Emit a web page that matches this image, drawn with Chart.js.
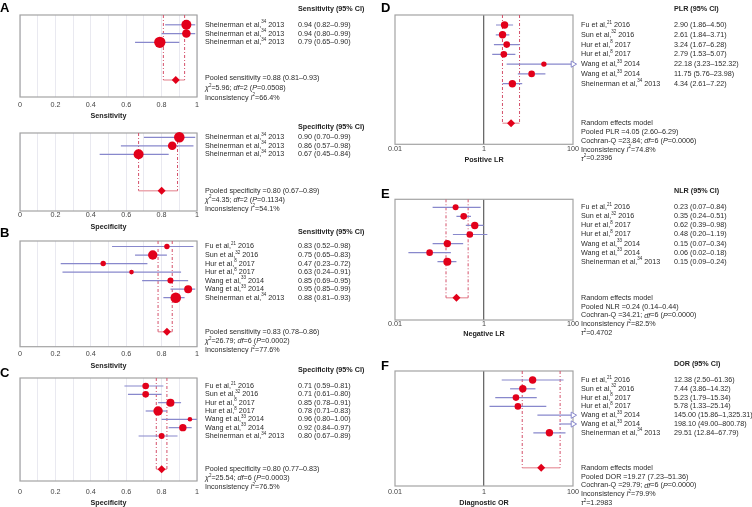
<!DOCTYPE html>
<html>
<head>
<meta charset="utf-8">
<script src="https://cdn.jsdelivr.net/npm/chart.js@4.4.1/dist/chart.umd.min.js"></script>
<style>
  html, body { margin: 0; padding: 0; background: #fff; }
  #fig { position: relative; width: 752px; height: 507px; overflow: hidden; }
  #fig canvas { position: absolute; }
</style>
</head>
<body>
<div id="fig"></div>
<script>
/* Forest plots: pooled sensitivity / specificity / PLR / NLR / DOR */
const FONT = '"Liberation Sans", Arial, Helvetica, sans-serif';
const RED = '#e2001a', CI_COL = '#8888cc', DASH_COL = '#d4506a', POOL_COL = '#eca8b0';
const BOX_COL = '#a3a3a3', TXT = '#2a2a2a';
const FS = 7.2;

// ---- data ----
const shortStudies = ['Sheinerman et al,{s:34} 2013', 'Sheinerman et al,{s:34} 2013', 'Sheinerman et al,{s:34} 2013'];
const studies = ['Fu et al,{s:21} 2016', 'Sun et al,{s:32} 2016', 'Hur et al,{s:8} 2017', 'Hur et al,{s:8} 2017',
  'Wang et al,{s:33} 2014', 'Wang et al,{s:33} 2014', 'Sheinerman et al,{s:34} 2013'];

const linTicks = [0, 0.2, 0.4, 0.6, 0.8, 1];
const logTicks = [0.01, 1, 100];

const aSensEst = [0.94, 0.94, 0.79];
const aSensLo  = [0.82, 0.80, 0.65];
const aSensHi  = [0.99, 0.99, 0.90];
const aSensW   = [25, 18.5, 32];
const aSensPool = [0.88, 0.81, 0.93];
const aSensNotes = ['{i:χ}{s:2}=5.96; {i:df}=2 ({i:P}=0.0508)', 'Inconsistency {i:I}{s:2}=66.4%'];

const aSpecEst = [0.90, 0.86, 0.67];
const aSpecLo  = [0.70, 0.57, 0.45];
const aSpecHi  = [0.99, 0.98, 0.84];
const aSpecW   = [28, 18.5, 25];
const aSpecPool = [0.80, 0.67, 0.89];
const aSpecNotes = ['{i:χ}{s:2}=4.35; {i:df}=2 ({i:P}=0.1134)', 'Inconsistency {i:I}{s:2}=54.1%'];

const bSensEst = [0.83, 0.75, 0.47, 0.63, 0.85, 0.95, 0.88];
const bSensLo  = [0.52, 0.65, 0.23, 0.24, 0.69, 0.85, 0.81];
const bSensHi  = [0.98, 0.83, 0.72, 0.91, 0.95, 0.99, 0.93];
const bSensW   = [7.3, 22, 7.3, 5.3, 9, 16, 28];
const bSensPool = [0.83, 0.78, 0.86];
const bSensNotes = ['{i:χ}{s:2}=26.79; {i:df}=6 ({i:P}=0.0002)', 'Inconsistency {i:I}{s:2}=77.6%'];

const cSpecEst = [0.71, 0.71, 0.85, 0.78, 0.96, 0.92, 0.80];
const cSpecLo  = [0.59, 0.61, 0.78, 0.71, 0.80, 0.84, 0.67];
const cSpecHi  = [0.81, 0.80, 0.91, 0.83, 1.00, 0.97, 0.89];
const cSpecW   = [11, 11, 16, 22, 5.3, 13.7, 9];
const cSpecPool = [0.80, 0.77, 0.83];
const cSpecNotes = ['{i:χ}{s:2}=25.54; {i:df}=6 ({i:P}=0.0003)', 'Inconsistency {i:I}{s:2}=76.5%'];

const plrEst = [2.90, 2.61, 3.24, 2.79, 22.18, 11.75, 4.34];
const plrLo  = [1.86, 1.84, 1.67, 1.53, 3.23, 5.76, 2.61];
const plrHi  = [4.50, 3.71, 6.28, 5.07, 152.32, 23.98, 7.22];
const plrW   = [13.7, 13.7, 11, 11, 7.3, 11, 13.7];
const plrPool = [4.05, 2.60, 6.29];
const plrNotes = ['Cochran-Q =23.84; {i:df}=6 ({i:P}=0.0006)', 'Inconsistency {i:I}{s:2}=74.8%', '{i:τ}{s:2}=0.2396'];

const nlrEst = [0.23, 0.35, 0.62, 0.48, 0.15, 0.06, 0.15];
const nlrLo  = [0.07, 0.24, 0.39, 0.20, 0.07, 0.02, 0.09];
const nlrHi  = [0.84, 0.51, 0.98, 1.19, 0.34, 0.18, 0.24];
const nlrW   = [9, 11, 13.7, 11, 13.7, 11, 16];
const nlrPool = [0.24, 0.14, 0.44];
const nlrNotes = ['Cochran-Q =34.21; {i:df}=6 ({i:P}=0.0000)', 'Inconsistency {i:I}{s:2}=82.5%', '{i:τ}{s:2}=0.4702'];

const dorEst = [12.38, 7.44, 5.23, 5.78, 145.00, 198.10, 29.51];
const dorLo  = [2.50, 3.86, 1.79, 1.33, 15.86, 49.00, 12.84];
const dorHi  = [61.36, 14.32, 15.34, 25.14, 1325.31, 800.78, 67.79];
const dorW   = [13.7, 13.7, 11, 11, 11, 11, 13.7];
const dorPool = [19.27, 7.23, 51.36];
const dorNotes = ['Cochran-Q =29.79; {i:df}=6 ({i:P}=0.0000)', 'Inconsistency {i:I}{s:2}=79.9%', '{i:τ}{s:2}=1.2983'];

// ---- layout of the panels (absolute page px) ----
const panels = [
  { letter: 'A', col: 0, top: 0, letterY: 8, headY: 9, box: [15, 97], tickY: 105, titleY: 116,
    rowY: [24.8, 8.75], poolY: 80, statY: [78, 9.9], log: false,
    header: 'Sensitivity (95% CI)', title: 'Sensitivity', names: shortStudies,
    est: aSensEst, lo: aSensLo, hi: aSensHi, w: aSensW, pool: aSensPool, poolLabel: 'Pooled sensitivity', pre: null, notes: aSensNotes },
  { letter: '', col: 0, top: 118, letterY: 0, headY: 126.7, box: [133, 211], tickY: 215, titleY: 226.7,
    rowY: [137.3, 8.5], poolY: 190.7, statY: [190.7, 9], log: false,
    header: 'Specificity (95% CI)', title: 'Specificity', names: shortStudies,
    est: aSpecEst, lo: aSpecLo, hi: aSpecHi, w: aSpecW, pool: aSpecPool, poolLabel: 'Pooled specificity', pre: null, notes: aSpecNotes },
  { letter: 'B', col: 0, top: 222, letterY: 233, headY: 231.7, box: [241, 346.7], tickY: 354, titleY: 366,
    rowY: [246.5, 8.53], poolY: 331.7, statY: [331.7, 9.2], log: false,
    header: 'Sensitivity (95% CI)', title: 'Sensitivity', names: studies,
    est: bSensEst, lo: bSensLo, hi: bSensHi, w: bSensW, pool: bSensPool, poolLabel: 'Pooled sensitivity', pre: null, notes: bSensNotes },
  { letter: 'C', col: 0, top: 360, letterY: 373, headY: 370, box: [378, 481], tickY: 492.3, titleY: 503,
    rowY: [386, 8.33], poolY: 469.3, statY: [469.2, 9], log: false,
    header: 'Specificity (95% CI)', title: 'Specificity', names: studies,
    est: cSpecEst, lo: cSpecLo, hi: cSpecHi, w: cSpecW, pool: cSpecPool, poolLabel: 'Pooled specificity', pre: null, notes: cSpecNotes },
  { letter: 'D', col: 1, top: 0, letterY: 8, headY: 9, box: [15, 144.3], tickY: 149.3, titleY: 160,
    rowY: [25, 9.78], poolY: 123.3, statY: [122.7, 8.95], log: true,
    header: 'PLR (95% CI)', title: 'Positive LR', names: studies,
    est: plrEst, lo: plrLo, hi: plrHi, w: plrW, pool: plrPool, poolLabel: 'Pooled PLR', pre: 'Random effects model', notes: plrNotes },
  { letter: 'E', col: 1, top: 180, letterY: 194, headY: 190.7, box: [199.3, 320], tickY: 324.3, titleY: 334.3,
    rowY: [207.3, 9.07], poolY: 297.7, statY: [297.7, 8.9], log: true,
    header: 'NLR (95% CI)', title: 'Negative LR', names: studies,
    est: nlrEst, lo: nlrLo, hi: nlrHi, w: nlrW, pool: nlrPool, poolLabel: 'Pooled NLR', pre: 'Random effects model', notes: nlrNotes },
  { letter: 'F', col: 1, top: 352, letterY: 366, headY: 364.3, box: [371, 486], tickY: 491.7, titleY: 502.7,
    rowY: [380, 8.8], poolY: 467.7, statY: [467.7, 8.9], log: true,
    header: 'DOR (95% CI)', title: 'Diagnostic OR', names: studies,
    est: dorEst, lo: dorLo, hi: dorHi, w: dorW, pool: dorPool, poolLabel: 'Pooled DOR', pre: 'Random effects model', notes: dorNotes },
];

// column geometry inside each 376px-wide canvas
const COLS = [{ left: 20, letterX: 0 }, { left: 19, letterX: 5 }];
const BOX_RIGHT = 197, NAME_X = 205, VAL_X = 298;

function fmt(v) {
  const [a, b] = v.toFixed(2).split('.');
  return a.replace(/\B(?=(\d{3})+(?!\d))/g, ',') + '.' + b;
}

// tiny rich text: {s:..} superscript, {i:..} italic
function drawRich(ctx, str, x, y, size, color, bold) {
  const base = (bold ? 'bold ' : '') + size + 'px ' + FONT;
  ctx.fillStyle = color;
  ctx.textAlign = 'left';
  ctx.textBaseline = 'middle';
  for (const part of str.split(/(\{[si]:[^}]*\})/)) {
    if (!part) continue;
    const m = part.match(/^\{([si]):([^}]*)\}$/);
    let t = part, font = base, dy = 0;
    if (m && m[1] === 's') { t = m[2]; font = (size * 0.62).toFixed(2) + 'px ' + FONT; dy = -size * 0.36; }
    else if (m) { t = m[2]; font = 'italic ' + base; }
    ctx.font = font;
    ctx.fillText(t, x, y + dy);
    x += ctx.measureText(t).width;
  }
}

function buildPanel(p) {
  const col = COLS[p.col];
  const cv = document.createElement('canvas');
  const height = Math.ceil(p.titleY - p.top + 4.4);
  const axisH = height - (p.box[1] - p.top);
  const tickPad = Math.max(0, p.tickY - p.box[1] - FS * 0.6);
  const titlePad = Math.max(0, axisH - (p.titleY - p.box[1]) - FS * 0.6);
  cv.width = 376; cv.height = height;
  cv.style.left = (p.col * 376) + 'px';
  cv.style.top = p.top + 'px';
  document.getElementById('fig').appendChild(cv);

  const rowOf = (yAbs) => (yAbs - p.rowY[0]) / p.rowY[1];
  const yMin = rowOf(p.box[0]), yMax = rowOf(p.box[1]);
  const poolRow = rowOf(p.poolY);
  const xMin = p.log ? logTicks[0] : linTicks[0];
  const xMax = p.log ? logTicks[logTicks.length - 1] : linTicks[linTicks.length - 1];
  const clampX = (v) => Math.min(Math.max(v, xMin), xMax);

  const datasets = [];
  datasets.push({
    data: p.est.map((v, i) => ({ x: v, y: i })),
    pointRadius: p.w.map((w) => Math.sqrt(w)),
    pointBackgroundColor: RED, pointBorderWidth: 0,
    clip: { left: 0, right: 0, top: false, bottom: 0 }, order: 0
  });
  datasets.push({
    data: [{ x: p.pool[0], y: poolRow }],
    pointStyle: 'rectRot', pointRadius: 4, pointBackgroundColor: RED, pointBorderWidth: 0, order: 0
  });
  const arrows = p.hi.map((v, i) => (v > xMax ? { x: xMax, y: i } : null)).filter(Boolean);
  if (arrows.length) {
    datasets.push({
      data: arrows, pointStyle: 'triangle', pointRotation: 90, pointRadius: 3.6,
      pointBackgroundColor: '#fff', pointBorderColor: CI_COL, pointBorderWidth: 1, clip: false, order: 1
    });
  }
  p.lo.forEach((lo, i) => {
    datasets.push({
      data: [{ x: clampX(lo), y: i }, { x: clampX(p.hi[i]), y: i }],
      showLine: true, pointRadius: 0, borderColor: CI_COL, borderWidth: 1.2, order: 2
    });
  });
  [p.pool[1], p.pool[2]].forEach((v) => {
    datasets.push({
      data: [{ x: v, y: yMin }, { x: v, y: poolRow }],
      showLine: true, pointRadius: 0, borderColor: DASH_COL, borderWidth: 1, borderDash: [3, 2, 1, 2], order: 3
    });
  });
  datasets.push({
    data: [{ x: p.pool[1], y: poolRow }, { x: p.pool[2], y: poolRow }],
    showLine: true, pointRadius: 0, borderColor: POOL_COL, borderWidth: 1.5, order: 3
  });

  const xCommon = {
    min: xMin, max: xMax,
    border: { display: false },
    title: { display: true, text: p.title, color: '#222', font: { size: FS, weight: 'bold' }, padding: { top: 0, bottom: titlePad } },
    afterFit: (ax) => { ax.height = axisH; }
  };
  const xScale = p.log
    ? Object.assign({}, xCommon, {
        type: 'logarithmic',
        afterBuildTicks: (ax) => { ax.ticks = logTicks.map((v) => ({ value: v })); },
        ticks: { color: '#444', font: { size: FS }, padding: tickPad, maxRotation: 0, autoSkip: false, callback: (v) => String(v) },
        grid: { drawTicks: false, lineWidth: 1.3, color: (c) => (c.tick && c.tick.value === 1 ? '#6a6a6a' : 'rgba(0,0,0,0)') }
      })
    : Object.assign({}, xCommon, {
        type: 'linear',
        ticks: {
          stepSize: 0.1, color: '#444', font: { size: FS }, padding: tickPad, maxRotation: 0, autoSkip: false,
          callback: (v) => { const k = Math.round(v * 10) / 10; return linTicks.includes(k) ? String(k) : ''; }
        },
        grid: { drawTicks: false, color: '#e9e9f0', lineWidth: 1 }
      });

  const forestText = {
    id: 'forestText',
    beforeDatasetsDraw(chart) {
      const { ctx, chartArea: a } = chart;
      ctx.save();
      ctx.strokeStyle = BOX_COL; ctx.lineWidth = 1.2;
      ctx.strokeRect(a.left, a.top, a.right - a.left, a.bottom - a.top);
      ctx.restore();
    },
    afterDraw(chart) {
      const { ctx } = chart;
      const ys = chart.scales.y;
      ctx.save();
      if (p.letter) {
        ctx.font = 'bold 13px ' + FONT; ctx.fillStyle = '#000';
        ctx.textAlign = 'left'; ctx.textBaseline = 'middle';
        ctx.fillText(p.letter, col.letterX, p.letterY - p.top + 0.5);
      }
      drawRich(ctx, p.header, VAL_X, p.headY - p.top, FS, '#222', true);
      p.names.forEach((name, i) => {
        const y = ys.getPixelForValue(i);
        drawRich(ctx, name, NAME_X, y, FS, TXT, false);
        drawRich(ctx, fmt(p.est[i]) + ' (' + fmt(p.lo[i]) + '–' + fmt(p.hi[i]) + ')', VAL_X, y, FS, TXT, false);
      });
      const lines = [];
      if (p.pre) lines.push(p.pre);
      lines.push(p.poolLabel + ' =' + fmt(p.pool[0]) + ' (' + fmt(p.pool[1]) + '–' + fmt(p.pool[2]) + ')');
      lines.push(...p.notes);
      lines.forEach((t, k) => {
        const y = ys.getPixelForValue(rowOf(p.statY[0] + k * p.statY[1]));
        drawRich(ctx, t, NAME_X, y, FS, TXT, false);
      });
      ctx.restore();
    }
  };

  return new Chart(cv.getContext('2d'), {
    type: 'scatter',
    data: { datasets },
    options: {
      responsive: false, animation: false, devicePixelRatio: 1, events: [],
      layout: { padding: { left: col.left, right: 376 - BOX_RIGHT, top: p.box[0] - p.top, bottom: 0 } },
      plugins: { legend: { display: false }, tooltip: { enabled: false } },
      scales: {
        x: xScale,
        y: { type: 'linear', min: yMin, max: yMax, reverse: true, display: false }
      }
    },
    plugins: [forestText]
  });
}

Chart.defaults.font.family = FONT;
panels.forEach(buildPanel);
</script>
</body>
</html>
